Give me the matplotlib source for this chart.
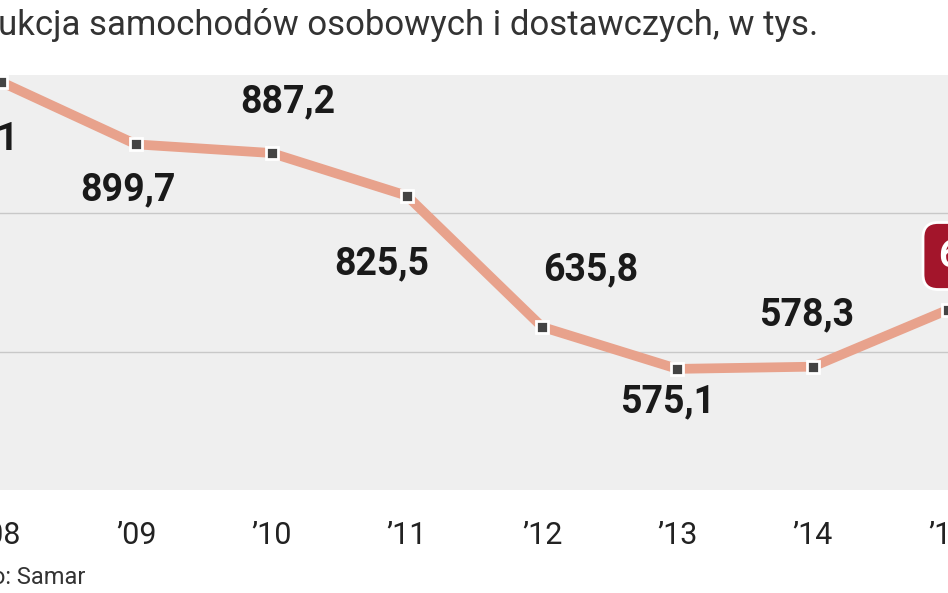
import matplotlib
matplotlib.use("Agg")
import matplotlib.pyplot as plt

years = [2008, 2009, 2010, 2011, 2012, 2013, 2014, 2015]
values = [990.1, 899.7, 887.2, 825.5, 635.8, 575.1, 578.3, 660.6]
labels = ["990,1", "899,7", "887,2", "825,5", "635,8", "575,1", "578,3", ""]
ticklabels = ["’08", "’09", "’10", "’11", "’12", "’13", "’14", "’15"]
# label offsets in pixels (dx, dy up)
offs = [(18, -57), (-8, -45), (16, 51), (-25, -68), (49, 57), (-10, -33), (-6, 52), (0, 0)]

W, H = 948, 593
fig = plt.figure(figsize=(W/100, H/100), dpi=100)
ax = fig.add_axes([0, (H-490)/H, 1, 415/H])
ax.set_facecolor("#efefef")
for s in ax.spines.values():
    s.set_visible(False)

ax.plot(years, values, color="#e8a28c", lw=7, solid_joinstyle="round", zorder=2)
ax.plot(years, values, ls="none", marker="s", ms=8, mfc="#444444", mec="white", mew=2, zorder=3)

x0 = 2008 - 1/148.3
x1 = x0 + W/148.3
ax.set_xlim(x0, x1)
ax.set_ylim(400, 1000)
ax.set_yticks([600, 800])
ax.yaxis.grid(True, color="#c8c8c8", lw=1)
ax.tick_params(axis="y", length=0, labelleft=False)
ax.set_xticks(years)
ax.set_xticklabels(ticklabels, fontsize=22, family="Roboto", color="#222222")
ax.tick_params(axis="x", length=0, pad=22)
ax.set_axisbelow(True)

for x, v, lab, (dx, dy) in zip(years, values, labels, offs):
    if not lab:
        continue
    ax.annotate(lab, (x, v), xytext=(dx*0.72, dy*0.72), textcoords="offset points",
                ha="right" if x == 2008 else "center", va="center",
                fontsize=27, fontweight="bold", family="Roboto", color="#1a1a1a",
                annotation_clip=False)

# red value box for 2015, cut off at right edge
fig.text(938/W, 1 - 256/H, "660,6", ha="left", va="center",
         fontsize=27, fontweight="bold", family="Roboto", color="white",
         bbox=dict(boxstyle="round,pad=0.4", fc="#a3152b", ec="white", lw=2))

fig.text(-2/W, 1 - 25/H, "ukcja samochodów osobowych i dostawczych, w tys.", ha="left",
         va="center", fontsize=25, family="Roboto", color="#333333")
fig.text(-8/W, 1 - 578/H, "o: Samar", ha="left", va="center", fontsize=17,
         family="Roboto", color="#333333")

fig.savefig("out.png", dpi=100)
